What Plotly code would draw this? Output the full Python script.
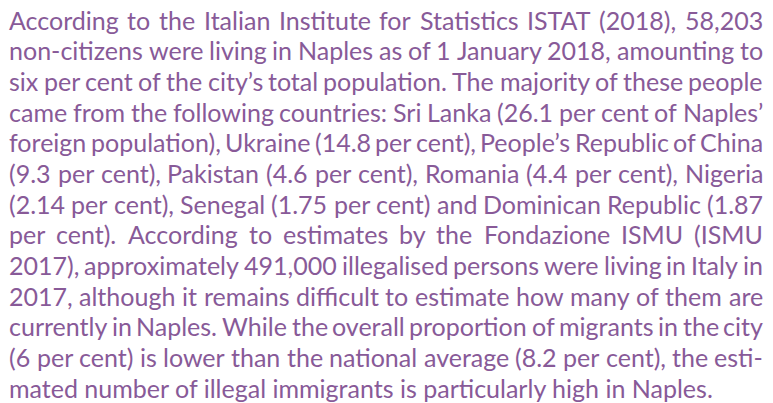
import plotly.graph_objects as go

# ---- content (text lines exactly as in the reference paragraph) ----
lines = [
    "According to the Italian Institute for Statistics ISTAT (2018), 58,203",
    "non-citizens were living in Naples as of 1 January 2018, amounting to",
    "six per cent of the city\u2019s total population. The majority of these people",
    "came from the following countries: Sri Lanka (26.1 per cent of Naples\u2019",
    "foreign population), Ukraine (14.8 per cent), People\u2019s Republic of China",
    "(9.3 per cent), Pakistan (4.6 per cent), Romania (4.4 per cent), Nigeria",
    "(2.14 per cent), Senegal (1.75 per cent) and Dominican Republic (1.87",
    "per cent). According to estimates by the Fondazione ISMU (ISMU",
    "2017), approximately 491,000 illegalised persons were living in Italy in",
    "2017, although it remains difficult to estimate how many of them are",
    "currently in Naples. While the overall proportion of migrants in the city",
    "(6 per cent) is lower than the national average (8.2 per cent), the esti-",
    "mated number of illegal immigrants is particularly high in Naples.",
]

W, H = 773, 403
LEFT, RIGHT = 9.0, 763.0
FIRST_BASE, LAST_BASE = 26.0, 394.0
COLOR = "#885a98"
FAMILY = "Lato"
LAST_LINE_WIDTH = 704.0

# ---- text measurement (Lato Regular) ----
REF = 1000.0
measure = None
try:
    from PIL import ImageFont
    import glob
    cands = glob.glob("/usr/share/fonts/**/Lato-Regular.ttf", recursive=True)
    if cands:
        _f = ImageFont.truetype(cands[0], int(REF))
        measure = lambda s: _f.getlength(s) / REF
except Exception:
    measure = None
if measure is None:
    measure = lambda s: 0.48 * len(s)

fs = LAST_LINE_WIDTH / measure(lines[-1])


def ann(text, x, base, anchor):
    yc = base - 0.387 * fs + 3.5
    fig.add_annotation(
        text=text, x=x / W, y=1 - yc / H, xref="paper", yref="paper",
        xanchor=anchor, yanchor="middle", showarrow=False,
        borderpad=0, borderwidth=0,
        font=dict(family=FAMILY, size=fs, color=COLOR),
    )


fig = go.Figure()
pitch = (LAST_BASE - FIRST_BASE) / (len(lines) - 1)
for i, line in enumerate(lines):
    base = FIRST_BASE + i * pitch
    words = line.split(" ")
    if i == len(lines) - 1:
        ann(line, LEFT, base, "left")
        continue
    widths = [measure(w) * fs for w in words]
    gap = (RIGHT - LEFT - sum(widths)) / (len(words) - 1)
    x = LEFT
    n = len(words)
    for k, (w, wd) in enumerate(zip(words, widths)):
        if k == 0:
            ann(w, LEFT, base, "left")
        elif k == n - 1:
            ann(w, RIGHT, base, "right")
        else:
            ann(w, x + wd / 2, base, "center")
        x += wd + gap

fig.update_layout(
    width=W, height=H, margin=dict(l=0, r=0, t=0, b=0),
    paper_bgcolor="white", plot_bgcolor="white",
    xaxis=dict(visible=False, range=[0, 1]),
    yaxis=dict(visible=False, range=[0, 1]),
    showlegend=False,
)
fig.write_html("out.html", config={"displayModeBar": False},
               post_script="document.body.style.margin='0px';")
